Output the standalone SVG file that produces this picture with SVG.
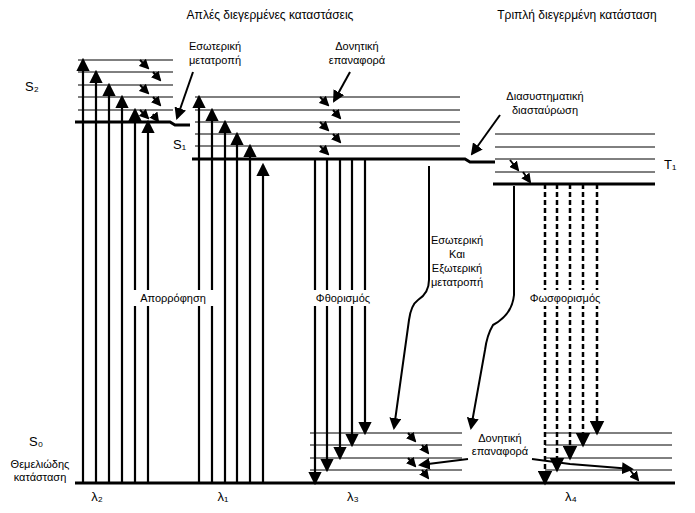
<svg xmlns="http://www.w3.org/2000/svg" width="695" height="513" viewBox="0 0 695 513">
<style>
text{font-family:"Liberation Sans",Arial,sans-serif;font-size:11px;fill:#000}
.t{font-size:12px}
.s{font-size:13px}
.l{stroke:#000;stroke-width:1;fill:none}
.k{stroke:#000;stroke-width:3;fill:none}
.a{stroke:#000;stroke-width:2.2;fill:none;marker-end:url(#ah)}
.d{stroke:#000;stroke-width:2.5;fill:none;stroke-dasharray:5,3;marker-end:url(#ah)}
.v{stroke:#000;stroke-width:2;fill:none;marker-end:url(#sh)}
.c{stroke:#000;stroke-width:2;fill:none;marker-end:url(#ah)}
</style>
<defs>
<marker id="ah" markerWidth="6" markerHeight="6" refX="5" refY="3" orient="auto" markerUnits="strokeWidth"><path d="M0,0L6,3L0,6z" fill="#000"/></marker>
<marker id="sh" markerWidth="5" markerHeight="5" refX="4" refY="2.5" orient="auto" markerUnits="strokeWidth"><path d="M0,0L5,2.5L0,5z" fill="#000"/></marker>
</defs>
<rect width="695" height="513" fill="#fff"/>
<g id="levels">
<path class="l" d="M78,60H173M78,72H173M78,85H173M78,97H173M78,110H173"/>
<path class="k" d="M75,122H170L175,125H190"/>
<path class="l" d="M195,97H460M195,110H460M195,122H460M195,134H460M195,146H460"/>
<path class="k" d="M192,159H465L470,162H495"/>
<path class="l" d="M495,134H655M495,147H655M495,159H655M495,172H655"/>
<path class="k" d="M493,184H655"/>
<path class="l" d="M310,433H462M310,445H462M310,458H462M310,470H462"/>
<path class="l" d="M545,433H672M545,445H672M545,458H672M545,470H672"/>
<path class="k" d="M75,483H675"/>
</g>
<g id="connectors">
<path class="a" d="M83,483V60"/><path class="a" d="M96,483V72"/><path class="a" d="M109,483V85"/><path class="a" d="M122,483V97"/><path class="a" d="M135,483V110"/><path class="a" d="M148,483V122"/>
<path class="a" d="M199,483V97"/><path class="a" d="M212,483V110"/><path class="a" d="M225,483V122"/><path class="a" d="M237,483V134"/><path class="a" d="M250,483V146"/><path class="a" d="M263,483V165"/>
<path class="a" d="M315,159V483"/><path class="a" d="M327,159V470"/><path class="a" d="M340,159V458"/><path class="a" d="M352,159V445"/><path class="a" d="M365,159V433"/>
<path class="d" d="M545,184V483"/><path class="d" d="M557,184V470"/><path class="d" d="M570,184V458"/><path class="d" d="M583,184V445"/><path class="d" d="M597,184V433"/>
<path class="c" d="M429,166V280Q429,293 418,300Q411,305 409,320L394,428"/>
<path class="c" d="M514,186V295Q512,315 493,325Q487,335 485,350L471,428"/>
<path class="c" d="M193,72L177,118"/>
<path class="c" d="M350,72L334,101"/>
<path class="c" d="M500,115L472,154"/>
<path class="c" d="M468,459L420,465"/>
<path class="c" d="M532,459L570,464L632,469"/>
<path class="v" d="M140,60L148,68"/><path class="v" d="M153,72L160,80"/><path class="v" d="M140,85L148,93"/><path class="v" d="M153,97L160,105"/><path class="v" d="M140,110L148,118"/><path class="v" d="M153,114L158,121"/>
<path class="v" d="M320,97L328,105"/><path class="v" d="M333,110L340,118"/><path class="v" d="M320,122L328,130"/><path class="v" d="M333,134L340,142"/><path class="v" d="M320,146L328,154"/>
<path class="v" d="M510,160L518,170"/><path class="v" d="M523,172L530,182"/>
<path class="v" d="M408,433L415,441"/><path class="v" d="M422,445L428,453"/><path class="v" d="M408,458L415,466"/><path class="v" d="M422,470L428,478"/>
<path class="v" d="M630,470L638,480"/>
</g>
<g id="labels">
<rect x="130" y="290" width="86" height="16" fill="#fff"/>
<rect x="308" y="290" width="70" height="16" fill="#fff"/>
<rect x="520" y="290" width="90" height="16" fill="#fff"/>
<text class="t" x="270" y="19" text-anchor="middle">Απλές διεγερμένες καταστάσεις</text>
<text class="t" x="577" y="19" text-anchor="middle">Τριπλή διεγερμένη κατάσταση</text>
<text x="215" y="50" text-anchor="middle">Εσωτερική</text>
<text x="215" y="64" text-anchor="middle">μετατροπή</text>
<text x="357" y="50" text-anchor="middle">Δονητική</text>
<text x="357" y="64" text-anchor="middle">επαναφορά</text>
<text x="545" y="100" text-anchor="middle">Διασυστηματική</text>
<text x="545" y="114" text-anchor="middle">διασταύρωση</text>
<text class="s" x="25" y="91">S₂</text>
<text class="s" x="173" y="149">S₁</text>
<text class="s" x="664" y="169">T₁</text>
<text class="s" x="29" y="446">S₀</text>
<text x="40" y="468" text-anchor="middle">Θεμελιώδης</text>
<text x="40" y="481" text-anchor="middle">κατάσταση</text>
<text x="173" y="302" text-anchor="middle">Απορρόφηση</text>
<text x="343" y="302" text-anchor="middle">Φθορισμός</text>
<text x="565" y="302" text-anchor="middle">Φωσφορισμός</text>
<text x="457" y="244" text-anchor="middle">Εσωτερική</text>
<text x="457" y="258" text-anchor="middle">Και</text>
<text x="457" y="272" text-anchor="middle">Εξωτερική</text>
<text x="457" y="286" text-anchor="middle">μετατροπή</text>
<text x="500" y="442" text-anchor="middle">Δονητική</text>
<text x="500" y="455" text-anchor="middle">επαναφορά</text>
<text class="s" x="97" y="501" text-anchor="middle">λ₂</text>
<text class="s" x="223" y="501" text-anchor="middle">λ₁</text>
<text class="s" x="353" y="501" text-anchor="middle">λ₃</text>
<text class="s" x="571" y="501" text-anchor="middle">λ₄</text>
</g>
</svg>
